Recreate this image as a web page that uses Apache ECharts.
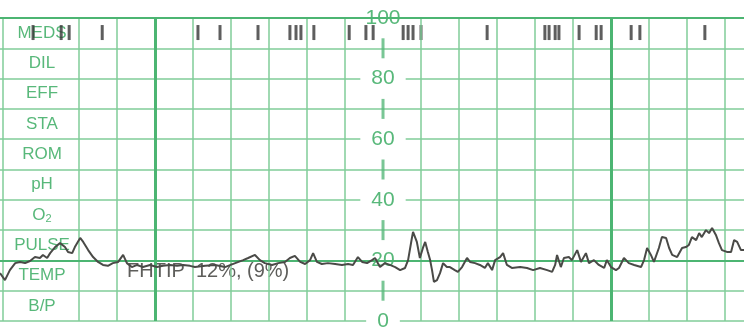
<!DOCTYPE html>
<html>
<head>
<meta charset="utf-8">
<script src="https://cdn.jsdelivr.net/npm/echarts@6/dist/echarts.min.js"></script>
<style>
  html, body { margin: 0; padding: 0; background: #fff; }
  #chart { width: 744px; height: 333px; }
</style>
</head>
<body>
<div id="chart"></div>
<script>
// 胎心监护纸 - 宫缩曲线
var chart = echarts.init(document.getElementById('chart'), null, { renderer: 'canvas' });

// 行标签(从下往上)
var rowLabels = ['B/P', 'TEMP', 'PULSE', 'O2', 'pH', 'ROM', 'STA', 'EFF', 'DIL', 'MEDS'];
// 中间刻度
var scaleTicks = [0, 20, 40, 60, 80, 100];
var scaleDashes = [10, 30, 50, 70, 90];
// 竖线(秒),每10秒一条,每分钟加粗
var thinLines = [0, 20, 30, 50, 60, 70, 80, 90, 110, 120, 130, 140, 150, 170, 180, 190];
var thickLines = [40, 160];
// MEDS 事件标记(秒)
var eventTimes = [7.9, 15.3, 17.4, 26.1, 51.3, 57.1, 67.1, 75.5, 77.1, 78.4, 81.8, 91.1, 95.5, 97.4,
  105.3, 106.6, 107.9, 110.0, 127.4, 142.6, 143.7, 145.3, 146.3, 151.6, 156.1, 157.4, 165.3, 167.6, 184.7];
var eventLevel = 95.2;
// 宫缩压力曲线 [秒, mmHg]
var uaTime = [-0.8, 0.5, 1.8, 3.2, 4.5, 5.8, 7.1, 8.4, 9.7, 10.5, 11.6, 12.4, 13.7, 15.0, 16.3, 17.1, 18.2, 18.9,
  20.3, 21.1, 22.4, 23.7, 25.0, 26.3, 27.6, 28.9, 30.3, 31.6, 32.6, 33.9, 35.3, 36.8, 38.7, 40.5, 42.1, 43.9,
  45.8, 47.4, 49.2, 50.5, 53.2, 55.8, 58.4, 61.1, 63.2, 64.5, 66.3, 67.6, 68.9, 70.8, 72.4, 74.2, 75.5, 76.8,
  78.2, 79.5, 80.8, 81.6, 82.6, 83.9, 85.5, 87.4, 89.2, 90.8, 92.1, 93.4, 94.5, 95.8, 97.1, 97.9, 99.2, 100.5,
  101.8, 103.2, 104.5, 105.8, 106.6, 107.6, 107.9, 108.9, 109.7, 110.5, 111.1, 111.8, 112.4, 112.9, 113.4,
  114.2, 115.0, 115.8, 116.8, 117.6, 118.9, 119.7, 120.8, 122.1, 122.9, 124.2, 125.5, 126.8, 127.6, 128.7,
  129.5, 130.8, 131.6, 132.6, 133.9, 136.1, 137.9, 139.5, 141.3, 143.2, 144.5, 145.3, 145.8, 146.8, 147.6,
  148.9, 149.7, 151.1, 152.1, 153.4, 154.2, 155.5, 156.8, 158.2, 158.9, 160.0, 161.3, 162.1, 163.4, 164.7,
  166.1, 167.9, 168.7, 169.5, 170.5, 171.3, 172.6, 173.4, 174.5, 175.3, 176.1, 177.4, 178.7, 179.7, 180.5,
  181.3, 182.4, 183.2, 183.9, 185.0, 185.8, 186.6, 187.6, 188.4, 189.2, 190.5, 191.6, 192.4, 193.2, 194.2, 195.0];
var uaValue = [15.8, 13.5, 16.8, 19.1, 19.5, 19.1, 19.8, 21.1, 20.8, 21.8, 20.8, 22.4, 24.4, 25.7, 24.4, 22.8, 22.4, 24.4,
  27.4, 26.1, 23.4, 21.1, 19.5, 18.5, 18.2, 19.1, 19.5, 21.8, 19.1, 17.8, 18.5, 17.8, 18.5, 17.8, 18.2, 18.5,
  18.2, 18.5, 18.2, 17.8, 18.2, 18.5, 17.8, 19.1, 20.1, 20.8, 21.8, 20.1, 19.1, 18.5, 19.1, 19.5, 20.8, 21.5,
  19.5, 18.8, 20.1, 22.4, 19.5, 18.8, 19.1, 18.8, 18.5, 18.8, 18.5, 21.1, 19.5, 19.1, 20.1, 20.8, 17.8, 19.1,
  18.5, 17.8, 16.8, 17.5, 20.1, 27.4, 29.4, 26.1, 20.8, 24.1, 26.1, 22.8, 20.1, 16.8, 12.9,
  13.5, 15.8, 19.1, 17.8, 17.8, 16.8, 16.2, 17.8, 20.8, 19.5, 19.1, 18.5, 17.5, 19.1, 16.8,
  20.1, 21.1, 22.4, 18.5, 17.5, 17.8, 17.5, 16.8, 17.5, 16.8, 16.2, 18.5, 21.8, 17.8, 20.8,
  21.1, 20.1, 23.4, 19.5, 22.4, 19.1, 20.1, 18.5, 17.5, 20.1, 17.8, 16.8, 17.5, 20.8, 19.1,
  18.5, 17.8, 20.1, 24.1, 21.8, 19.5, 24.1, 27.7, 27.4, 24.1, 21.8, 21.1, 24.1, 24.4, 25.1,
  27.7, 26.7, 29.0, 27.7, 30.0, 29.0, 30.7, 28.4, 25.7, 23.4, 22.8, 22.8, 26.7, 26.1, 23.4, 23.4];

var thinColor = '#80cc98';
var thickColor = '#4cb572';
var textGreen = '#58b87a';
var fontFam = '"Liberation Sans", Arial, sans-serif';

var traceData = uaTime.map(function (t, i) { return [t, uaValue[i]]; });
var eventData = eventTimes.map(function (t) { return [t, eventLevel]; });
var dashData = scaleDashes.map(function (v) { return [100, v]; });

var vLines = thinLines.map(function (t) {
  return { xAxis: t, lineStyle: { color: thinColor, width: 1.5, type: 'solid' } };
}).concat(thickLines.map(function (t) {
  return { xAxis: t, lineStyle: { color: thickColor, width: 3, type: 'solid' } };
}));

var option = {
  backgroundColor: '#fff',
  animation: false,
  grid: { left: 0, right: 0, top: 18, bottom: 12 },
  xAxis: { type: 'value', min: -0.8, max: 195, show: false },
  yAxis: [
    {
      type: 'value',
      min: 0,
      max: 100,
      interval: 10,
      position: 'left',
      offset: -383,
      axisLine: { show: false },
      axisTick: { show: false },
      splitLine: { show: true, lineStyle: { color: thinColor, width: 1.5 } },
      axisLabel: {
        margin: 0,
        align: 'center',
        color: textGreen,
        fontSize: 21,
        fontFamily: fontFam,
        backgroundColor: '#fff',
        padding: [0, 11],
        formatter: function (v) { return scaleTicks.indexOf(v) >= 0 ? String(v) : ''; }
      }
    },
    {
      type: 'category',
      data: rowLabels,
      position: 'left',
      offset: -42,
      axisLine: { show: false },
      axisTick: { show: false },
      splitLine: { show: false },
      axisLabel: {
        margin: 0,
        align: 'center',
        color: textGreen,
        fontSize: 17,
        fontFamily: fontFam,
        formatter: function (v) { return v === 'O2' ? '{o|O}{s|2}' : v; },
        rich: {
          o: { color: textGreen, fontSize: 17, fontFamily: fontFam },
          s: { color: textGreen, fontSize: 11, fontFamily: fontFam, padding: [9, 0, 0, 0] }
        }
      }
    }
  ],
  graphic: [
    {
      type: 'text',
      left: 127,
      top: 261,
      z: 3,
      style: {
        text: 'FHTIP  12%, (9%)',
        fill: '#5e5e5b',
        font: '20px "Liberation Sans", Arial, sans-serif'
      }
    }
  ],
  series: [
    {
      name: 'grid',
      type: 'line',
      data: [],
      silent: true,
      z: 1,
      markLine: {
        silent: true,
        symbol: 'none',
        label: { show: false },
        animation: false,
        data: vLines.concat([
          { yAxis: 20, lineStyle: { color: thickColor, width: 2.2, type: 'solid' } },
          { yAxis: 100, lineStyle: { color: thickColor, width: 2, type: 'solid' } }
        ])
      }
    },
    {
      name: 'scale',
      type: 'scatter',
      data: dashData,
      symbol: 'rect',
      symbolSize: [3, 20],
      itemStyle: { color: textGreen },
      silent: true,
      z: 2
    },
    {
      name: 'MEDS',
      type: 'scatter',
      data: eventData,
      symbol: 'rect',
      symbolSize: [3, 15],
      itemStyle: { color: '#363636' },
      silent: true,
      z: 4
    },
    {
      name: 'UA',
      type: 'line',
      data: traceData,
      showSymbol: false,
      lineStyle: { color: '#4a4a47', width: 2 },
      silent: true,
      z: 5
    }
  ]
};
chart.setOption(option);
</script>
</body>
</html>
